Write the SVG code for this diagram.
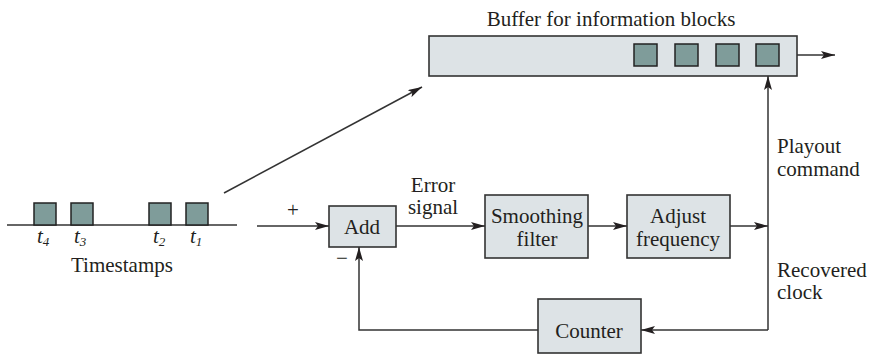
<svg xmlns="http://www.w3.org/2000/svg" width="869" height="361" viewBox="0 0 869 361" font-family="'Liberation Serif', 'DejaVu Serif', 'Times New Roman', serif">
<defs>
<marker id="ah" markerWidth="14" markerHeight="8" refX="14" refY="4" orient="auto" markerUnits="userSpaceOnUse">
<path d="M0,0 L14,4 L0,8 L3,4 Z" fill="#231f20"/>
</marker>
</defs>
<style>
text{font-family:'Liberation Serif','DejaVu Serif','Times New Roman',serif;font-size:21px;fill:#231f20}
.box{fill:#dde3e6;stroke:#333;stroke-width:1.6}
.blk{fill:#7f9c9a;stroke:#222;stroke-width:1.5}
.ln{fill:none;stroke:#333;stroke-width:1.5}
.c{text-anchor:middle}
</style>
<g id="timestamps">
<line class="ln" x1="7" y1="225" x2="237" y2="225"/>
<rect class="blk" x="34" y="203" width="22" height="22"/>
<rect class="blk" x="71" y="203" width="22" height="22"/>
<rect class="blk" x="149" y="203" width="22" height="22"/>
<rect class="blk" x="186" y="203" width="22" height="22"/>
<text x="37" y="243" font-style="italic">t<tspan font-size="13" dy="3">4</tspan></text>
<text x="74" y="243" font-style="italic">t<tspan font-size="13" dy="3">3</tspan></text>
<text x="153" y="243" font-style="italic">t<tspan font-size="13" dy="3">2</tspan></text>
<text x="190" y="243" font-style="italic">t<tspan font-size="13" dy="3">1</tspan></text>
<text class="c" x="122" y="272">Timestamps</text>
</g>
<g id="buffer">
<text class="c" x="611" y="26">Buffer for information blocks</text>
<rect class="box" x="429" y="36" width="368" height="40"/>
<rect class="blk" x="634" y="44" width="23" height="22"/>
<rect class="blk" x="675" y="44" width="23" height="22"/>
<rect class="blk" x="716" y="44" width="23" height="22"/>
<rect class="blk" x="756" y="44" width="23" height="22"/>
</g>
<g id="add">
<rect class="box" x="329" y="206" width="67" height="41"/>
<text class="c" x="362" y="234">Add</text>
</g>
<g id="smoothing">
<rect class="box" x="485" y="195" width="103" height="63"/>
<text class="c" x="537" y="223">Smoothing</text>
<text class="c" x="537" y="246">filter</text>
</g>
<g id="adjust">
<rect class="box" x="627" y="195" width="103" height="63"/>
<text class="c" x="678" y="223">Adjust</text>
<text class="c" x="678" y="246">frequency</text>
</g>
<g id="counter">
<rect class="box" x="538" y="299" width="103" height="54"/>
<text class="c" x="589" y="338">Counter</text>
</g>
<g id="connectors">
<line class="ln" x1="224" y1="193" x2="422" y2="87" marker-end="url(#ah)"/>
<line class="ln" x1="797" y1="55" x2="835" y2="55" marker-end="url(#ah)"/>
<line class="ln" x1="257" y1="226" x2="329" y2="226" marker-end="url(#ah)"/>
<line class="ln" x1="396" y1="226" x2="485" y2="226" marker-end="url(#ah)"/>
<line class="ln" x1="588" y1="226" x2="627" y2="226" marker-end="url(#ah)"/>
<line class="ln" x1="730" y1="226" x2="768" y2="226" marker-end="url(#ah)"/>
<line class="ln" x1="768" y1="330" x2="768" y2="76" marker-end="url(#ah)"/>
<line class="ln" x1="768" y1="330" x2="641" y2="330" marker-end="url(#ah)"/>
<polyline class="ln" points="538,330 359,330 359,247" marker-end="url(#ah)"/>
<text class="c" x="293" y="217">+</text>
<text class="c" x="342" y="265">−</text>
<text class="c" x="433" y="192">Error</text>
<text class="c" x="433" y="214">signal</text>
<text x="777" y="153">Playout</text>
<text x="777" y="176">command</text>
<text x="777" y="277">Recovered</text>
<text x="777" y="299">clock</text>
</g>
</svg>
